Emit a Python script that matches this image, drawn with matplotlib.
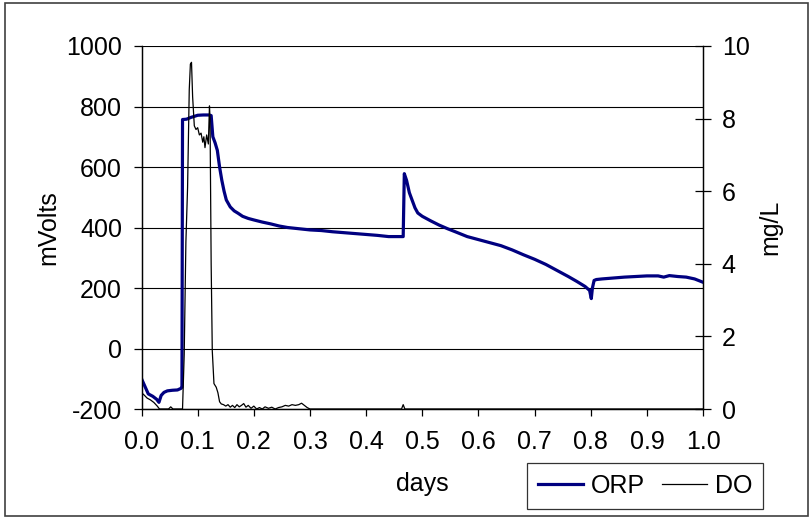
import matplotlib.pyplot as plt
import matplotlib.ticker as mticker
from matplotlib.patches import Rectangle

plt.rcParams['font.family'] = ['Liberation Sans', 'DejaVu Sans']
plt.rcParams['axes.unicode_minus'] = False

# ORP (mV) against time in days
orp_days = [0.000, 0.006, 0.012, 0.020, 0.027, 0.031, 0.035, 0.040, 0.046, 0.055,
            0.064, 0.070, 0.072, 0.073, 0.080, 0.088, 0.095, 0.100, 0.110, 0.120,
            0.124, 0.127, 0.131, 0.135, 0.139, 0.143, 0.147, 0.151, 0.158, 0.165,
            0.172, 0.180, 0.190, 0.200, 0.215, 0.230, 0.245, 0.260, 0.280, 0.300,
            0.320, 0.340, 0.360, 0.380, 0.400, 0.420, 0.440, 0.466, 0.468, 0.472,
            0.477, 0.482, 0.487, 0.492, 0.500, 0.515, 0.530, 0.545, 0.560, 0.580,
            0.600, 0.620, 0.640, 0.660, 0.680, 0.700, 0.720, 0.740, 0.760, 0.775,
            0.790, 0.798, 0.801, 0.803, 0.806, 0.810, 0.820, 0.840, 0.860, 0.880,
            0.900, 0.920, 0.930, 0.940, 0.955, 0.970, 0.985, 1.000]
orp_mv = [-100, -125, -150, -158, -168, -178, -155, -145, -140, -138,
          -137, -132, -128, 757, 758, 764, 768, 771, 772, 772,
          770, 700, 680, 655, 600, 556, 520, 491, 468, 455,
          447, 437, 430, 425, 418, 412, 405, 400, 396, 392,
          390, 386, 383, 380, 377, 374, 370, 370, 578, 556,
          515, 490, 465, 448, 437, 422, 408, 396, 385, 370,
          360, 350, 340, 326, 310, 295, 278, 258, 238, 222,
          205, 192, 165, 200, 225, 228, 230, 233, 236, 238,
          240, 240, 236, 241, 238, 236, 230, 219]

# dissolved oxygen (mg/L) against time in days
do_days = [0.000, 0.005, 0.010, 0.016, 0.022, 0.028, 0.032, 0.040, 0.048, 0.052,
           0.056, 0.062, 0.070, 0.073, 0.076, 0.079, 0.082, 0.085, 0.087, 0.089,
           0.091, 0.094, 0.097, 0.100, 0.103, 0.106, 0.109, 0.111, 0.113, 0.116,
           0.119, 0.121, 0.122, 0.124, 0.126, 0.129, 0.133, 0.136, 0.139, 0.142,
           0.146, 0.150, 0.154, 0.158, 0.162, 0.166, 0.170, 0.174, 0.178, 0.182,
           0.186, 0.190, 0.195, 0.200, 0.205, 0.210, 0.215, 0.220, 0.226, 0.232,
           0.238, 0.244, 0.250, 0.256, 0.262, 0.268, 0.274, 0.280, 0.285, 0.290,
           0.295, 0.300, 0.305, 0.463, 0.466, 0.469, 0.472, 1.000]
do_mgl = [0.45, 0.38, 0.30, 0.25, 0.18, 0.08, 0.00, 0.00, 0.00, 0.06,
          0.00, 0.00, 0.00, 0.00, 1.50, 4.60, 6.10, 8.80, 9.50, 9.55,
          8.60, 7.80, 7.70, 7.75, 7.55, 7.60, 7.35, 7.50, 7.20, 7.55,
          7.30, 8.35, 8.00, 4.00, 1.60, 0.70, 0.60, 0.45, 0.20, 0.14,
          0.12, 0.08, 0.12, 0.05, 0.10, 0.04, 0.12, 0.06, 0.10, 0.15,
          0.05, 0.10, 0.02, 0.08, 0.00, 0.04, 0.00, 0.06, 0.02, 0.05,
          0.00, 0.04, 0.06, 0.10, 0.08, 0.12, 0.10, 0.12, 0.16, 0.10,
          0.04, 0.00, 0.00, 0.00, 0.12, 0.00, 0.00, 0.00]

fs = 18

fig = plt.figure(figsize=(8.12, 5.18), dpi=100)
ax = fig.add_axes([0.1743, 0.2104, 0.6915, 0.7008])
ax2 = ax.twinx()

l1, = ax.plot(orp_days, orp_mv, color='#000080', lw=2.3, label='ORP', zorder=3)
l2, = ax2.plot(do_days, do_mgl, color='black', lw=0.9, label='DO', zorder=2)

ax.set_xlim(0, 1.0)
ax.set_ylim(-200, 1000)
ax2.set_ylim(0, 10)
ax.xaxis.set_major_locator(mticker.MultipleLocator(0.1))
ax.xaxis.set_major_formatter(mticker.FormatStrFormatter('%.1f'))
ax.yaxis.set_major_locator(mticker.MultipleLocator(200))
ax2.yaxis.set_major_locator(mticker.MultipleLocator(2))

# horizontal grid only
ax.yaxis.grid(True, color='black', lw=0.8)
ax.set_axisbelow(True)

for a in (ax, ax2):
    a.spines['top'].set_visible(False)
    for s in a.spines.values():
        s.set_linewidth(0.9)

ax.tick_params(axis='both', labelsize=fs, direction='out', length=6, width=0.9, pad=8)
ax.tick_params(axis='x', length=5, pad=10)
ax2.tick_params(axis='y', labelsize=fs, direction='inout', length=11, width=0.9, pad=8)

ax.set_ylabel('mVolts', fontsize=fs, labelpad=4)
ax2.set_ylabel('mg/L', fontsize=fs, labelpad=6)
ax.set_xlabel('days', fontsize=fs, labelpad=13)

leg = fig.legend(handles=[l1, l2], loc='center', ncol=2,
                 bbox_to_anchor=(645 / 812, 1 - 486 / 518), fontsize=fs,
                 frameon=True, fancybox=False, edgecolor='black',
                 handlelength=1.8, handletextpad=0.3, columnspacing=0.7,
                 borderpad=0.45)
leg.get_frame().set_linewidth(0.9)

# outer chart border
fig.patches.append(Rectangle((5 / 812, 2 / 518), 803 / 812, 513 / 518,
                             transform=fig.transFigure, fill=False,
                             edgecolor='#404040', lw=1.2))

fig.savefig('out.png', dpi=100)
